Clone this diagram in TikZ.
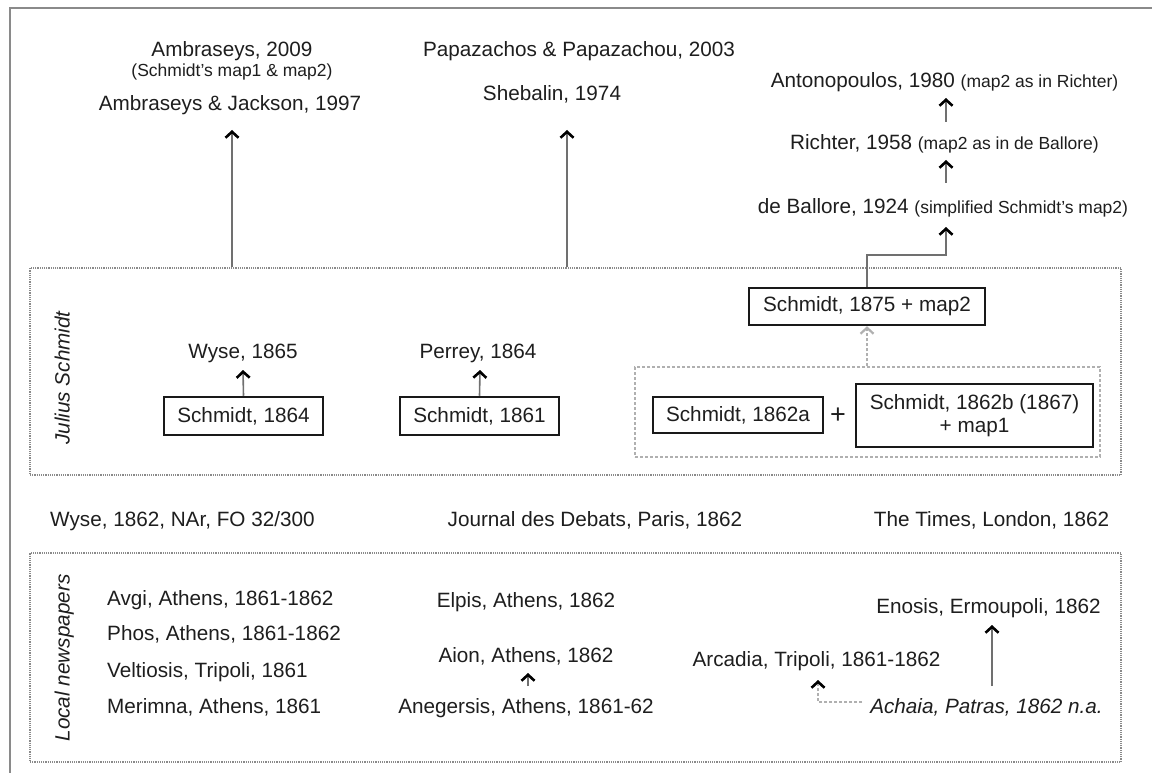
\documentclass[tikz,border=0pt]{standalone}
\usepackage{fontspec}
\setmainfont{Liberation Sans}
\usetikzlibrary{arrows.meta}
\definecolor{txt}{HTML}{1E1E1E}
\definecolor{ln}{HTML}{707070}
\definecolor{fr}{HTML}{8A8A8A}
\definecolor{lfr}{HTML}{B0B0B0}
\tikzset{
  txt/.style={inner sep=0pt, text depth=0pt, anchor=base, text=txt, font=\fontsize{20.7}{24}\selectfont},
  itxt/.style={txt, font=\fontsize{20.7}{24}\selectfont\itshape},
  sbox/.style={draw=black!90, line width=2.5pt, inner sep=0pt, text=txt, font=\fontsize{20.7}{23}\selectfont, align=center},
  frame/.style={draw=fr, line width=1.3pt, dash pattern=on 1.2pt off 1pt, inner sep=0pt},
  iframe/.style={draw=lfr, line width=1.2pt, dash pattern=on 3pt off 2pt, inner sep=0pt},
  arr/.style={draw=ln, line width=1.6pt, -{Straight Barb[length=6pt,width=13pt,line width=2.6pt,color=black]}},
  darr/.style={draw=lfr, line width=1.5pt, dash pattern=on 3pt off 2pt, -{Straight Barb[length=6pt,width=13pt,line width=2.2pt,color=lfr]}},
  dkarr/.style={draw=lfr, line width=1.5pt, dash pattern=on 3pt off 2pt, -{Straight Barb[length=6pt,width=13pt,line width=2.6pt,color=black]}},
}
\newcommand{\sm}{\fontsize{17.5}{20}\selectfont}
\begin{document}
\begin{tikzpicture}[x=1pt,y=-1pt]
\useasboundingbox (0,0) rectangle (1152,773);
\fill[white] (0,0) rectangle (1152,773);
% outer frame
\draw[fr, line width=2.2pt] (10,790) -- (10,8) -- (1170,8);

% frames
\node[frame, minimum width=1091pt, minimum height=207pt] (js) at (575.5,371.5) {};
\node[frame, minimum width=1091pt, minimum height=209pt] (ln) at (575.5,657.5) {};
\node[iframe, minimum width=465pt, minimum height=90pt] (inner) at (867.5,412) {};

\node[itxt, anchor=center, rotate=90] (jslab) at (62,378) {Julius Schmidt};
\node[itxt, anchor=center, rotate=90] (lnlab) at (62,658) {Local newspapers};

% top texts
\node[txt] (amb09) at (232,57) {Ambraseys, 2009};
\node[txt, font=\sm] (ambmap) at (232,77) {(Schmidt's map1 \& map2)};
\node[txt] (aj) at (230,111) {Ambraseys \& Jackson, 1997};
\node[txt] (papa) at (579,57) {Papazachos \& Papazachou, 2003};
\node[txt] (sheb) at (552,101) {Shebalin, 1974};
\node[txt] (anto) at (944.5,88) {Antonopoulos, 1980 {\sm(map2 as in Richter)}};
\node[txt] (rich) at (944.5,150) {Richter, 1958 {\sm(map2 as in de Ballore)}};
\node[txt] (debal) at (943,213) {de Ballore, 1924 {\sm(simplified Schmidt's map2)}};

% Julius Schmidt box contents
\node[txt] (wyse65) at (243,358) {Wyse, 1865};
\node[txt] (perrey) at (478,358) {Perrey, 1864};
\node[sbox, minimum width=159pt, minimum height=38pt] (s1864) at (243.5,416) {Schmidt, 1864};
\node[sbox, minimum width=159pt, minimum height=38pt] (s1861) at (479.5,416) {Schmidt, 1861};
\node[sbox, minimum width=236pt, minimum height=37pt] (s1875) at (867,306.5) {Schmidt, 1875 + map2};
\node[sbox, minimum width=170pt, minimum height=36pt] (s1862a) at (738,415) {Schmidt, 1862a};
\node[txt, anchor=center, font=\fontsize{27}{27}\selectfont] (plus) at (838,416) {+};
\node[sbox, minimum width=237pt, minimum height=63pt] (s1862b) at (974.5,415.5) {Schmidt, 1862b (1867)\\+ map1};

% middle row
\node[txt, anchor=base west] (wyse62) at (50,526) {Wyse, 1862, NAr, FO 32/300};
\node[txt] (jdd) at (595,526) {Journal des Debats, Paris, 1862};
\node[txt] (times) at (991.5,526) {The Times, London, 1862};

% local newspapers
\node[txt, anchor=base west] (avgi) at (107,605) {Avgi, Athens, 1861-1862};
\node[txt, anchor=base west] (phos) at (107,640) {Phos, Athens, 1861-1862};
\node[txt, anchor=base west] (velt) at (107,677) {Veltiosis, Tripoli, 1861};
\node[txt, anchor=base west] (meri) at (107,713) {Merimna, Athens, 1861};
\node[txt] (elpis) at (526,607) {Elpis, Athens, 1862};
\node[txt] (aion) at (526,662) {Aion, Athens, 1862};
\node[txt] (aneg) at (526,713) {Anegersis, Athens, 1861-62};
\node[txt] (enosis) at (988.5,613) {Enosis, Ermoupoli, 1862};
\node[txt] (arcad) at (816.5,666) {Arcadia, Tripoli, 1861-1862};
\node[itxt] (achaia) at (986.5,713) {Achaia, Patras, 1862 n.a.};

% arrow tip coordinates
\coordinate (tA) at (232,130);
\coordinate (tS) at (567,130);
\coordinate (tAnto) at (946,98);
\coordinate (tRich) at (946,160);
\coordinate (tDeb) at (946,227);
\coordinate (tAion) at (528,673);
\coordinate (tEn) at (992,625);
\coordinate (tArc) at (818,680);

% connectors
\draw[arr] (tA |- js.north) -- (tA);
\draw[arr] (tS |- js.north) -- (tS);
\draw[arr] (946,122) -- (tAnto);
\draw[arr] (946,183) -- (tRich);
\draw[arr] (s1875.north) |- (946,255) -- (tDeb);
\draw[arr] (s1864.north) -- (243,370);
\draw[arr] (s1861.north) -- (480,370);
\draw[darr] (inner.north -| s1875) -- (s1875.south);
\draw[arr] (528,686) -- (tAion);
\draw[arr] (992,686) -- (tEn);
\draw[dkarr] (achaia.west |- 0,702) ++(-8,0) -| (tArc);
\end{tikzpicture}
\end{document}
